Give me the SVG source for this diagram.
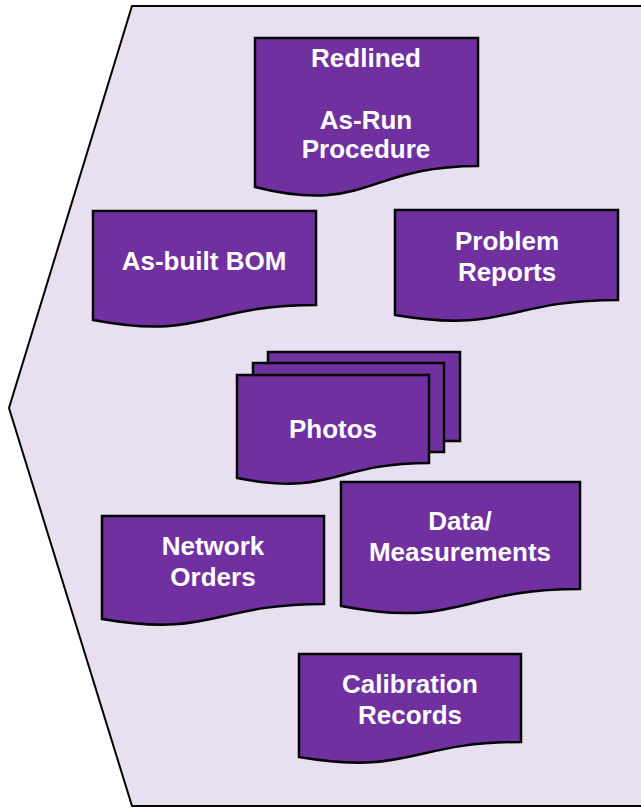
<svg xmlns="http://www.w3.org/2000/svg" width="641" height="808" viewBox="0 0 641 808">
  <style>
    .doc { fill: #7030A0; stroke: #000; stroke-width: 2.5; stroke-linejoin: miter; }
    .lbl { fill: #fff; font-family: "Liberation Sans", Arial, sans-serif; font-weight: bold; font-size: 26px; text-anchor: middle; }
  </style>
  <rect width="641" height="808" fill="#fff"/>
  <!-- lavender background panel -->
  <path d="M660,6 H132 L9,408 L132,806 H660" fill="#E8E0F0" stroke="#000" stroke-width="2"/>

  <g id="nodes">
    <g id="redlined">
      <path class="doc" d="M255,38 H478 V166 C366.5,166 366.5,215 255,187 Z"/>
      <text class="lbl" x="366" y="67">Redlined</text>
      <text class="lbl" x="366" y="129">As-Run</text>
      <text class="lbl" x="366" y="158">Procedure</text>
    </g>
    <g id="asbuilt-bom">
      <path class="doc" d="M93,211 H316 V305 C204.5,305 204.5,341 93,320 Z"/>
      <text class="lbl" x="204" y="270">As-built BOM</text>
    </g>
    <g id="problem-reports">
      <path class="doc" d="M395,210 H618 V300 C506.5,300 506.5,334 395,315 Z"/>
      <text class="lbl" x="507" y="250">Problem</text>
      <text class="lbl" x="507" y="281">Reports</text>
    </g>
    <g id="photos">
      <rect class="doc" x="268" y="352" width="192" height="89"/>
      <rect class="doc" x="253" y="363" width="191" height="89"/>
      <path class="doc" d="M237,375 H429 V463 C333,463 333,497 237,478 Z"/>
      <text class="lbl" x="333" y="438">Photos</text>
    </g>
    <g id="network-orders">
      <path class="doc" d="M102,516 H324 V604 C213,604 213,638 102,619 Z"/>
      <text class="lbl" x="213" y="555">Network</text>
      <text class="lbl" x="213" y="586">Orders</text>
    </g>
    <g id="data-measurements">
      <path class="doc" d="M341,482 H580 V589 C460.5,589 460.5,629 341,606 Z"/>
      <text class="lbl" x="460" y="530">Data/</text>
      <text class="lbl" x="460" y="561">Measurements</text>
    </g>
    <g id="calibration-records">
      <path class="doc" d="M299,654 H521 V742 C410,742 410,776 299,757 Z"/>
      <text class="lbl" x="410" y="693">Calibration</text>
      <text class="lbl" x="410" y="724">Records</text>
    </g>
  </g>
  <g id="connectors"/>
</svg>
